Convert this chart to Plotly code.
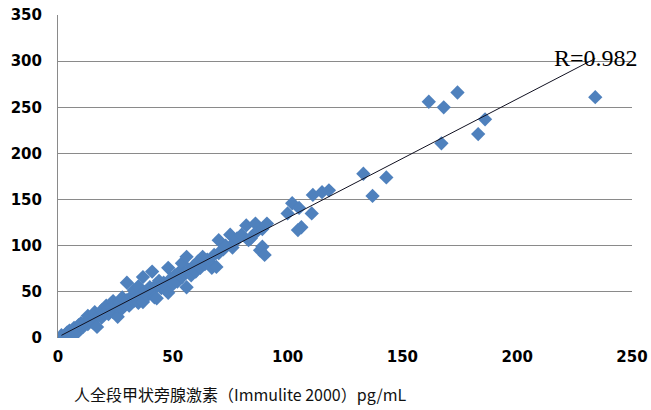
import numpy as np
import plotly.graph_objects as go

# Immulite 2000 (x) vs comparison assay (y), pg/mL
x_vals = [1.5, 3, 4, 5, 6, 7, 8, 9, 10, 11, 12, 13, 13, 14, 15, 16, 16, 17, 18, 19,
          19, 20, 21, 22, 22, 23, 24, 24, 25, 26, 26, 27, 28, 28, 29, 30, 30, 31, 32, 33,
          33, 34, 35, 35, 36, 37, 37, 38, 39, 40, 41, 41, 42, 43, 43, 44, 45, 46, 47, 48,
          48, 49, 50, 51, 52, 53, 54, 54, 55, 56, 56, 57, 58, 59, 60, 61, 62, 63, 64, 65,
          66, 67, 68, 69, 70, 70, 72, 73, 75, 76, 77, 78, 80, 82, 83, 84, 86, 86, 88, 89,
          90, 91, 89,
          100, 102, 105, 106, 104.5, 110.5, 111, 115, 118,
          133, 137, 143, 161.5, 167, 168, 174, 183, 186, 234]
y_vals = [3, 1, 6, 8, 4, 11, 5, 14, 16, 12, 18, 15, 24, 20, 17, 22, 28, 12, 25, 30,
          22, 27, 35, 26, 31, 33, 28, 40, 36, 23, 34, 38, 32, 44, 36, 60, 41, 35, 45, 40,
          52, 44, 38, 56, 47, 39, 66, 50, 46, 55, 72, 51, 44, 58, 43, 62, 54, 60, 52, 49,
          76, 64, 58, 68, 61, 72, 81, 66, 70, 55, 88, 74, 68, 78, 72, 83, 76, 88, 80, 85,
          82, 76, 90, 77, 106, 92, 96, 100, 112, 98, 104, 108, 112, 122, 106, 108, 124, 114, 95, 99,
          90, 124, 118,
          135, 146, 141, 120, 117, 135, 155, 158, 160,
          178, 154, 174, 256, 211, 250, 266, 221, 237, 261]

x_ticks = [0, 50, 100, 150, 200, 250]
y_ticks = [0, 50, 100, 150, 200, 250, 300, 350]
r_label = "R=0.982"
x_title = "人全段甲状旁腺激素（Immulite 2000）pg/mL"

xa = np.array(x_vals, dtype=float)
ya = np.array(y_vals, dtype=float)
slope, intercept = np.polyfit(xa, ya, 1)
tx = np.array([xa.min(), xa.max()])
ty = slope * tx + intercept

fig = go.Figure()
fig.add_trace(go.Scatter(
    x=x_vals, y=y_vals, mode="markers",
    marker=dict(symbol="diamond", size=11, color="#4F81BD",
                line=dict(width=0)),
    showlegend=False))
fig.add_trace(go.Scatter(
    x=tx, y=ty, mode="lines",
    line=dict(color="#101020", width=1), showlegend=False))

fig.add_annotation(x=215, y=303, xref="x", yref="y", text=r_label,
                   showarrow=False, xanchor="left", yanchor="middle",
                   font=dict(family="Liberation Serif", size=24, color="black"))
fig.add_annotation(xref="paper", yref="paper",
                   x=(240 - 58) / 574, y=(338 - 394) / 323, text=x_title,
                   showarrow=False, xanchor="center", yanchor="middle",
                   font=dict(family="Noto Sans CJK SC", size=16, color="#111"))

tickfont = dict(family="DejaVu Sans", size=15, color="black", weight="bold")
fig.update_layout(
    width=651, height=410,
    margin=dict(l=58, r=19, t=15, b=72),
    paper_bgcolor="white", plot_bgcolor="white",
    xaxis=dict(range=[0, 250], tickvals=x_ticks, showgrid=False,
               zeroline=False, showline=False, ticks="", automargin=False,
               tickfont=tickfont, ticklabelstandoff=8),
    yaxis=dict(range=[0, 350], tickvals=y_ticks, showgrid=True,
               gridcolor="#8a8a8a", gridwidth=1, zeroline=False, automargin=False,
               showline=True, linecolor="#8a8a8a", linewidth=1, ticks="",
               tickfont=tickfont, ticklabelstandoff=12),
)
fig.write_html("out.html", config={"displayModeBar": False},
               post_script="document.body.style.margin='0';document.body.style.overflow='hidden';")
